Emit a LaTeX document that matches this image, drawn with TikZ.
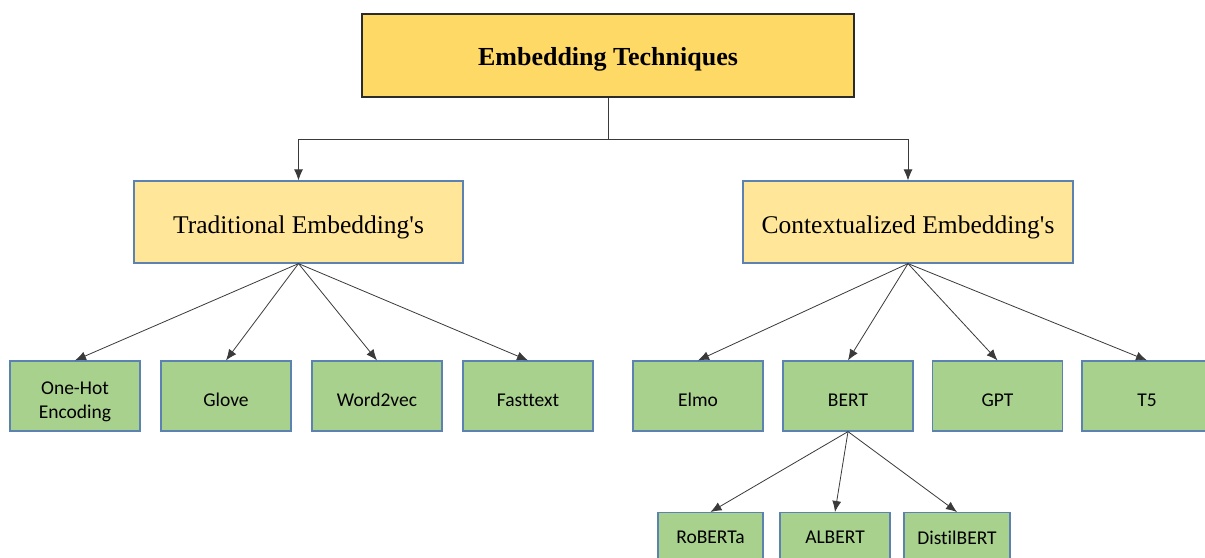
\documentclass[tikz,border=0pt]{standalone}
\usepackage{fontspec}
\setmainfont{Liberation Serif}
\newfontfamily\leaffont[Ligatures=NoCommon]{Carlito}
\usetikzlibrary{arrows.meta}
\definecolor{rootfill}{HTML}{FFD966}
\definecolor{midfill}{HTML}{FFE699}
\definecolor{leaffill}{HTML}{A9D18E}
\definecolor{boxline}{HTML}{5B82B0}
\definecolor{rootline}{HTML}{2B2B2B}
\definecolor{wire}{HTML}{3A3A3A}
% lower a label inside its box without changing the box size
\newcommand{\lowered}[2]{\raisebox{-#1}[\height][\depth]{\begin{tabular}{@{}c@{}}#2\end{tabular}}}
\tikzset{
  rootbox/.style={draw=rootline, fill=rootfill, line width=1.3pt,
    minimum width=492pt, minimum height=83pt, inner sep=0pt,
    font=\fontsize{26pt}{30pt}\selectfont\bfseries},
  midbox/.style={draw=boxline, fill=midfill, line width=1.2pt,
    minimum width=329pt, minimum height=82pt, inner sep=0pt,
    font=\fontsize{25.5pt}{30pt}\selectfont},
  leafbox/.style={draw=boxline, fill=leaffill, line width=1.2pt,
    minimum width=130pt, minimum height=70pt, inner sep=0pt, align=center,
    font=\leaffont\fontsize{19.5pt}{24.5pt}\selectfont},
  link/.style={draw=wire, line width=0.8pt, -{Latex[length=11pt,width=9pt]}}
}
\begin{document}
\begin{tikzpicture}[x=1pt,y=-1pt]
  \clip (0,0) rectangle (1205,557);
  \fill[white] (0,0) rectangle (1205,557);

  % root and the two families
  \node[rootbox] (root) at (608,55.5) {\lowered{3.5pt}{Embedding Techniques}};
  \node[midbox] (trad) at (298.5,222) {\lowered{5pt}{Traditional Embedding\textquotesingle s}};
  \node[midbox, minimum width=330pt] (ctx) at (908,222) {\lowered{5pt}{Contextualized Embedding\textquotesingle s}};

  % traditional methods
  \node[leafbox] (onehot) at (75,396) {\lowered{5.5pt}{One-Hot\\Encoding}};
  \node[leafbox] (glove) at (226,396) {\lowered{5.5pt}{Glove}};
  \node[leafbox] (w2v) at (377,396) {\lowered{5.5pt}{Word2vec}};
  \node[leafbox] (fasttext) at (528,396) {\lowered{5.5pt}{Fasttext}};

  % contextual methods
  \node[leafbox] (elmo) at (698,396) {\lowered{5.5pt}{Elmo}};
  \node[leafbox] (bert) at (848,396) {\lowered{5.5pt}{BERT}};
  \node[leafbox] (gpt) at (997.5,396) {\lowered{5.5pt}{GPT}};
  \node[leafbox] (tfive) at (1147,396) {\lowered{5.5pt}{T5}};

  % BERT variants, running past the lower edge
  \node[leafbox, minimum height=50pt, anchor=north, minimum width=105pt] (roberta) at (710.5,512) {RoBERTa};
  \node[leafbox, minimum height=50pt, anchor=north, minimum width=110pt] (albert) at (835,512) {ALBERT};
  \node[leafbox, minimum height=50pt, anchor=north, minimum width=106pt] (distil) at (957,512) {DistilBERT};

  % elbow connectors from the root
  \coordinate (split) at (608,139);
  \draw[draw=wire, line width=0.8pt] (root.south) -- (split);
  \draw[link] (split) -| (trad.north);
  \draw[link] (split) -| (ctx.north);

  % fan-out connectors
  \foreach \t in {onehot,glove,w2v,fasttext}
    \draw[link] (trad.south) -- (\t.north);
  \foreach \t in {elmo,bert,gpt,tfive}
    \draw[link] (ctx.south) -- (\t.north);
  \foreach \t in {roberta,albert,distil}
    \draw[link] (bert.south) -- (\t.north);
\end{tikzpicture}
\end{document}
